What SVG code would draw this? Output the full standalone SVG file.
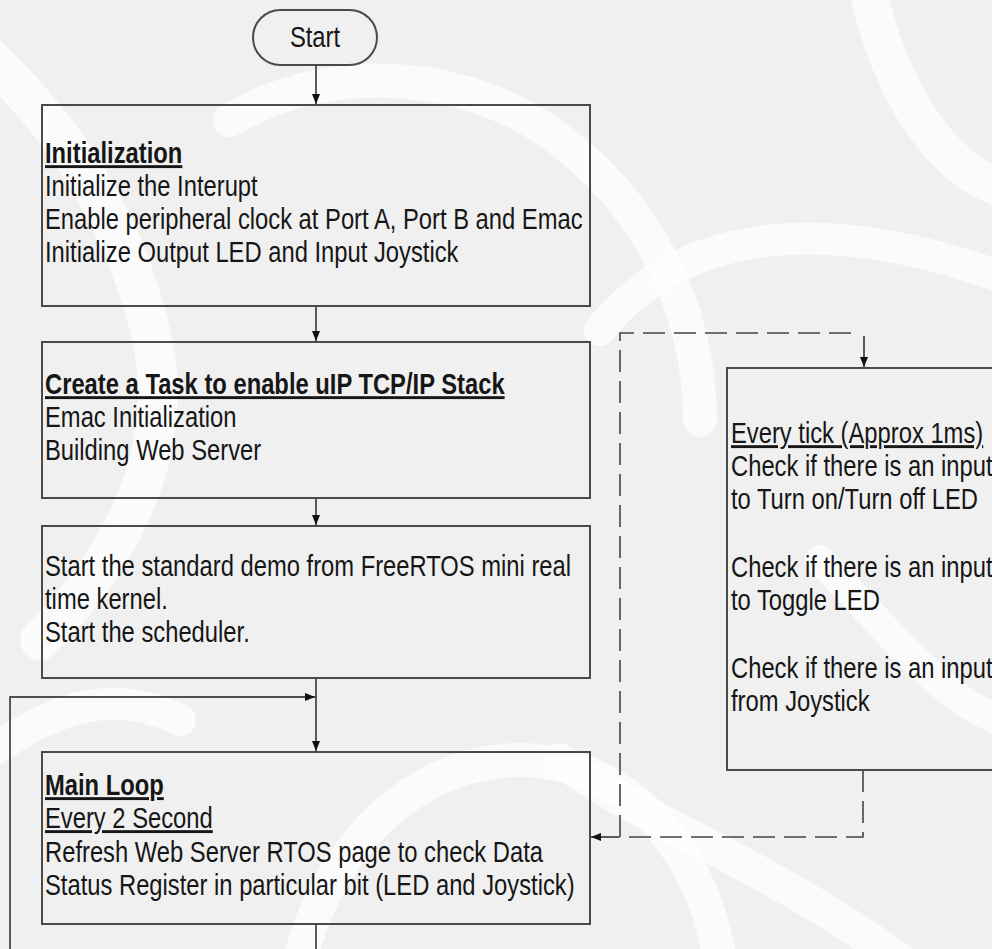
<svg xmlns="http://www.w3.org/2000/svg" width="992" height="949" viewBox="0 0 992 949">
  <defs>
    <style>
      .bg { fill: #f0f0f0; }
      .swirl { fill: none; stroke: #ffffff; stroke-linecap: round; opacity: 0.7; }
      .box { fill: none; stroke: #4a4a4a; stroke-width: 2; }
      .t { font-family: "Liberation Sans", Arial, sans-serif; font-size: 29px; fill: #161616; }
      .b { font-weight: bold; }
      .u { text-decoration: underline; }
      .wire { fill: none; stroke: #1a1a1a; stroke-width: 1.4; }
      .dash { fill: none; stroke: #444; stroke-width: 1.6; stroke-dasharray: 22 9; }
    </style>
    <marker id="ah" viewBox="0 0 10 8" refX="10" refY="4" markerWidth="10" markerHeight="8" markerUnits="userSpaceOnUse" orient="auto">
      <path d="M0,0 L10,4 L0,8 Z" fill="#111"/>
    </marker>
  </defs>

  <!-- faint backdrop pattern -->
  <rect class="bg" x="0" y="0" width="992" height="949"/>
  <g id="backdrop">
    <path class="swirl" stroke-width="40" d="M-30,40 C60,120 120,210 150,330 C180,450 120,560 40,640"/>
    <path class="swirl" stroke-width="34" d="M230,120 C330,60 470,70 560,140 C640,200 700,300 700,420"/>
    <path class="swirl" stroke-width="32" d="M600,330 C680,230 820,210 1010,280"/>
    <path class="swirl" stroke-width="38" d="M870,0 C900,120 960,180 1010,190"/>
    <path class="swirl" stroke-width="34" d="M300,960 C330,840 420,760 520,760 C620,760 700,840 720,960"/>
    <path class="swirl" stroke-width="34" d="M560,760 C640,820 760,860 900,960"/>
    <path class="swirl" stroke-width="32" d="M-20,760 C60,700 120,690 180,720"/>
    <path class="swirl" stroke-width="30" d="M820,560 C880,620 940,700 1000,720"/>
  </g>

  <!-- connectors -->
  <g id="connectors">
    <path class="wire" d="M316,65 V104" marker-end="url(#ah)"/>
    <path class="wire" d="M316,306 V341" marker-end="url(#ah)"/>
    <path class="wire" d="M316,498 V525" marker-end="url(#ah)"/>
    <path class="wire" d="M316,678 V751" marker-end="url(#ah)"/>
    <path class="wire" d="M10,949 V697 H315" marker-end="url(#ah)"/>
    <path class="wire" d="M316,924 V949"/>
    <path class="dash" d="M620,837 V333 H858"/>
    <path class="wire" d="M864,336 V367" marker-end="url(#ah)"/>
    <path class="dash" d="M863,770 V837 H618"/>
    <path class="wire" d="M618,837 H591" marker-end="url(#ah)"/>
  </g>

  <g id="start">
    <rect class="box" x="253" y="10" width="124" height="55" rx="27.5"/>
    <text class="t" transform="translate(315,47) scale(0.82,1)" text-anchor="middle">Start</text>
  </g>

  <g id="initialization">
    <rect class="box" x="42" y="105" width="548" height="201"/>
    <g transform="translate(45,0) scale(0.82,1)">
      <text class="t b u" x="0" y="163">Initialization</text>
      <text class="t" x="0" y="196">Initialize the Interupt</text>
      <text class="t" x="0" y="229">Enable peripheral clock at Port A, Port B and Emac</text>
      <text class="t" x="0" y="262">Initialize Output LED and Input Joystick</text>
    </g>
  </g>

  <g id="create-task">
    <rect class="box" x="42" y="342" width="548" height="156"/>
    <g transform="translate(45,0) scale(0.82,1)">
      <text class="t b u" x="0" y="394">Create a Task to enable uIP TCP/IP Stack</text>
      <text class="t" x="0" y="427">Emac Initialization</text>
      <text class="t" x="0" y="460">Building Web Server</text>
    </g>
  </g>

  <g id="start-demo">
    <rect class="box" x="42" y="526" width="548" height="152"/>
    <g transform="translate(45,0) scale(0.82,1)">
      <text class="t" x="0" y="576">Start the standard demo from FreeRTOS mini real</text>
      <text class="t" x="0" y="609">time kernel.</text>
      <text class="t" x="0" y="642">Start the scheduler.</text>
    </g>
  </g>

  <g id="main-loop">
    <rect class="box" x="42" y="752" width="548" height="172"/>
    <g transform="translate(45,0) scale(0.82,1)">
      <text class="t b u" x="0" y="795">Main Loop</text>
      <text class="t u" x="0" y="828">Every 2 Second</text>
      <text class="t" x="0" y="862">Refresh Web Server RTOS page to check Data</text>
      <text class="t" x="0" y="895">Status Register in particular bit (LED and Joystick)</text>
    </g>
  </g>

  <g id="tick-task">
    <rect class="box" x="727" y="368" width="290" height="402"/>
    <g transform="translate(731,0) scale(0.82,1)">
      <text class="t u" x="0" y="443">Every tick (Approx 1ms)</text>
      <text class="t" x="0" y="476">Check if there is an input</text>
      <text class="t" x="0" y="509">to Turn on/Turn off LED</text>
      <text class="t" x="0" y="577">Check if there is an input</text>
      <text class="t" x="0" y="610">to Toggle LED</text>
      <text class="t" x="0" y="678">Check if there is an input</text>
      <text class="t" x="0" y="711">from Joystick</text>
    </g>
  </g>
</svg>
